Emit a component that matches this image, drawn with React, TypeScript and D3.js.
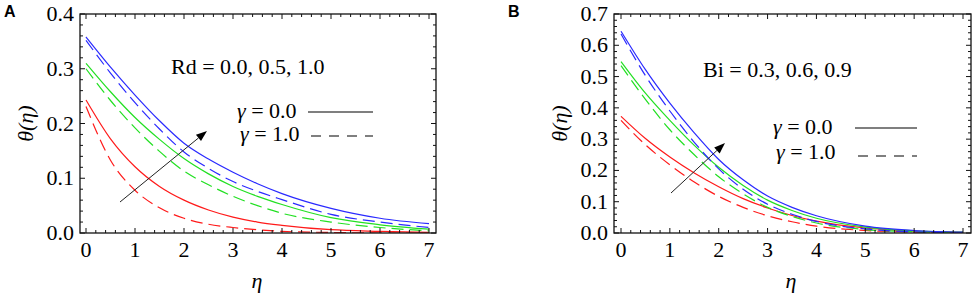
import React from "react";
import * as d3 from "d3";

const eta = [0, 0.5, 1, 1.5, 2, 2.5, 3, 3.5, 4, 5, 6, 7];

// Panel A (Rd = 0.0, 0.5, 1.0)
const aRedSolid = [0.243, 0.172, 0.121, 0.085, 0.06, 0.042, 0.029, 0.02, 0.014, 0.006, 0.003, 0.001];
const aRedDashed = [0.231, 0.133, 0.078, 0.046, 0.027, 0.016, 0.01, 0.006, 0.003, 0.001, 0.0, 0.0];
const aGreenSolid = [0.31, 0.258, 0.211, 0.171, 0.136, 0.108, 0.085, 0.067, 0.052, 0.028, 0.015, 0.007];
const aGreenDashed = [0.3, 0.242, 0.192, 0.149, 0.113, 0.088, 0.067, 0.05, 0.036, 0.02, 0.01, 0.004];
const aBlueSolid = [0.358, 0.303, 0.252, 0.205, 0.164, 0.135, 0.111, 0.09, 0.072, 0.045, 0.027, 0.017];
const aBlueDashed = [0.352, 0.292, 0.238, 0.19, 0.148, 0.118, 0.094, 0.076, 0.061, 0.034, 0.02, 0.01];

// Panel B (Bi = 0.3, 0.6, 0.9)
const bRedSolid = [0.373, 0.302, 0.243, 0.192, 0.148, 0.11, 0.08, 0.056, 0.038, 0.016, 0.006, 0.002];
const bRedDashed = [0.36, 0.282, 0.218, 0.163, 0.117, 0.082, 0.055, 0.036, 0.022, 0.008, 0.003, 0.001];
const bGreenSolid = [0.548, 0.447, 0.36, 0.28, 0.21, 0.152, 0.105, 0.072, 0.047, 0.019, 0.007, 0.003];
const bGreenDashed = [0.535, 0.427, 0.33, 0.25, 0.18, 0.125, 0.082, 0.053, 0.032, 0.011, 0.004, 0.001];
const bBlueSolid = [0.645, 0.522, 0.415, 0.32, 0.235, 0.17, 0.118, 0.082, 0.055, 0.022, 0.008, 0.003];
const bBlueDashed = [0.636, 0.503, 0.39, 0.29, 0.205, 0.14, 0.092, 0.06, 0.037, 0.013, 0.004, 0.001];

const xTicks = [0, 1, 2, 3, 4, 5, 6, 7];
const aYTicks = [0.0, 0.1, 0.2, 0.3, 0.4];
const bYTicks = [0.0, 0.1, 0.2, 0.3, 0.4, 0.5, 0.6, 0.7];

const RED = "#ff1a1a";
const GREEN = "#22e022";
const BLUE = "#2a2aff";
const SERIF = "Liberation Serif, Times New Roman, serif";
const SANS = "Liberation Sans, Arial, sans-serif";
const FS = 22;

type Series = { values: number[]; color: string; dashed: boolean };

type PanelProps = {
  id: string;
  letter: string;
  letterX: number;
  frame: { l: number; r: number; t: number; b: number };
  xRange: [number, number];
  yMax: number;
  yTicks: number[];
  series: Series[];
  paramText: string;
  paramPos: [number, number];
  legendPos: { x0: number; y0: number; x1: number; y1: number; lx0: number; lx1: number; ly0: number; ly1: number };
  arrow: { x1: number; y1: number; x2: number; y2: number };
  yLabelX: number;
  xLabelX: number;
};

const serif = { fontFamily: SERIF, fontSize: FS } as const;

function Panel(p: PanelProps) {
  const { frame } = p;
  const x = d3.scaleLinear().domain([0, 7]).range(p.xRange);
  const y = d3.scaleLinear().domain([0, p.yMax]).range([frame.b, frame.t]);
  const line = d3
    .line<number>()
    .x((_, i) => x(eta[i]))
    .y((v) => y(v))
    .curve(d3.curveMonotoneX);

  const xMinor = d3.range(0, 7.0001, 0.2).filter((v) => Math.abs(v - Math.round(v)) > 1e-6);
  const yStep = p.yTicks[1] - p.yTicks[0];
  const yMinor = d3
    .range(0, p.yMax + 1e-6, yStep / 5)
    .filter((v) => Math.abs(v / yStep - Math.round(v / yStep)) > 1e-6);
  const major = 5;
  const minor = 3;

  const ax = p.arrow;
  const ang = Math.atan2(ax.y2 - ax.y1, ax.x2 - ax.x1);
  const hl = 11;
  const hw = 4;
  const bx = ax.x2 - hl * Math.cos(ang);
  const by = ax.y2 - hl * Math.sin(ang);
  const head = [
    [ax.x2, ax.y2],
    [bx + hw * Math.sin(ang), by - hw * Math.cos(ang)],
    [bx - hw * Math.sin(ang), by + hw * Math.cos(ang)],
  ];

  return (
    <g>
      <defs>
        <clipPath id={`clip-${p.id}`}>
          <rect x={frame.l} y={frame.t} width={frame.r - frame.l} height={frame.b - frame.t} />
        </clipPath>
      </defs>
      <text x={p.letterX} y={17} style={{ fontFamily: SANS, fontWeight: "bold", fontSize: 16 }} fill="#000">
        {p.letter}
      </text>
      <g clipPath={`url(#clip-${p.id})`}>
        {p.series.map((s, i) => (
          <path
            key={i}
            d={line(s.values) || ""}
            fill="none"
            stroke={s.color}
            strokeWidth={1.2}
            strokeDasharray={s.dashed ? "12,6" : undefined}
          />
        ))}
      </g>
      <rect
        x={frame.l}
        y={frame.t}
        width={frame.r - frame.l}
        height={frame.b - frame.t}
        fill="none"
        stroke="#111"
        strokeWidth={1.3}
      />
      {xTicks.map((t) => (
        <g key={`xt${t}`}>
          <line x1={x(t)} x2={x(t)} y1={frame.b} y2={frame.b - major} stroke="#111" />
          <line x1={x(t)} x2={x(t)} y1={frame.t} y2={frame.t + major} stroke="#111" />
          <text x={x(t)} y={257} textAnchor="middle" style={serif} fill="#000">
            {t}
          </text>
        </g>
      ))}
      {xMinor.map((t, i) => (
        <g key={`xm${i}`}>
          <line x1={x(t)} x2={x(t)} y1={frame.b} y2={frame.b - minor} stroke="#111" />
          <line x1={x(t)} x2={x(t)} y1={frame.t} y2={frame.t + minor} stroke="#111" />
        </g>
      ))}
      {p.yTicks.map((t) => (
        <g key={`yt${t}`}>
          <line x1={frame.l} x2={frame.l + major} y1={y(t)} y2={y(t)} stroke="#111" />
          <line x1={frame.r} x2={frame.r - major} y1={y(t)} y2={y(t)} stroke="#111" />
          <text x={frame.l - 6} y={y(t) + 7} textAnchor="end" style={serif} fill="#000">
            {t.toFixed(1)}
          </text>
        </g>
      ))}
      {yMinor.map((t, i) => (
        <g key={`ym${i}`}>
          <line x1={frame.l} x2={frame.l + minor} y1={y(t)} y2={y(t)} stroke="#111" />
          <line x1={frame.r} x2={frame.r - minor} y1={y(t)} y2={y(t)} stroke="#111" />
        </g>
      ))}
      <text
        transform={`translate(${p.yLabelX},${(frame.t + frame.b) / 2}) rotate(-90)`}
        textAnchor="middle"
        style={{ ...serif, fontStyle: "italic" }}
        fill="#000"
      >
        θ(η)
      </text>
      <text x={p.xLabelX} y={288} textAnchor="middle" style={{ ...serif, fontStyle: "italic" }} fill="#000">
        η
      </text>
      <text x={p.paramPos[0]} y={p.paramPos[1]} style={serif} fill="#000">
        {p.paramText}
      </text>
      <text x={p.legendPos.x0} y={p.legendPos.y0} style={serif} fill="#000">
        <tspan fontStyle="italic">γ</tspan> = 0.0
      </text>
      <text x={p.legendPos.x1} y={p.legendPos.y1} style={serif} fill="#000">
        <tspan fontStyle="italic">γ</tspan> = 1.0
      </text>
      <line
        x1={p.legendPos.lx0}
        x2={p.legendPos.lx1}
        y1={p.legendPos.ly0}
        y2={p.legendPos.ly0}
        stroke="#000"
        strokeWidth={1.2}
      />
      <line
        x1={p.legendPos.lx0 + 3}
        x2={p.legendPos.lx1}
        y1={p.legendPos.ly1}
        y2={p.legendPos.ly1}
        stroke="#000"
        strokeWidth={1.2}
        strokeDasharray="10,8"
      />
      <line x1={ax.x1} y1={ax.y1} x2={bx} y2={by} stroke="#222" strokeWidth={1} />
      <polygon points={head.map((q) => q.join(",")).join(" ")} fill="#000" />
    </g>
  );
}

export default function App() {
  const seriesA: Series[] = [
    { values: aRedSolid, color: RED, dashed: false },
    { values: aRedDashed, color: RED, dashed: true },
    { values: aGreenSolid, color: GREEN, dashed: false },
    { values: aGreenDashed, color: GREEN, dashed: true },
    { values: aBlueSolid, color: BLUE, dashed: false },
    { values: aBlueDashed, color: BLUE, dashed: true },
  ];
  const seriesB: Series[] = [
    { values: bRedSolid, color: RED, dashed: false },
    { values: bRedDashed, color: RED, dashed: true },
    { values: bGreenSolid, color: GREEN, dashed: false },
    { values: bGreenDashed, color: GREEN, dashed: true },
    { values: bBlueSolid, color: BLUE, dashed: false },
    { values: bBlueDashed, color: BLUE, dashed: true },
  ];
  return (
    <svg
      width={976}
      height={298}
      viewBox="0 0 976 298"
      style={{ position: "absolute", left: 0, top: 0, background: "#fff" }}
    >
      <rect x={0} y={0} width={976} height={298} fill="#fff" />
      <Panel
        id="a"
        letter="A"
        letterX={4}
        frame={{ l: 80, r: 436, t: 14, b: 233 }}
        xRange={[86, 429]}
        yMax={0.4}
        yTicks={aYTicks}
        series={seriesA}
        paramText="Rd = 0.0, 0.5, 1.0"
        paramPos={[171, 74]}
        legendPos={{ x0: 237, y0: 118, x1: 240, y1: 141, lx0: 308, lx1: 373, ly0: 112, ly1: 136 }}
        arrow={{ x1: 120, y1: 202, x2: 207, y2: 131 }}
        yLabelX={33}
        xLabelX={257}
      />
      <Panel
        id="b"
        letter="B"
        letterX={508}
        frame={{ l: 614, r: 971, t: 14, b: 233 }}
        xRange={[621, 963]}
        yMax={0.7}
        yTicks={bYTicks}
        series={seriesB}
        paramText="Bi = 0.3, 0.6, 0.9"
        paramPos={[703, 77]}
        legendPos={{ x0: 773, y0: 134, x1: 776, y1: 159, lx0: 855, lx1: 917, ly0: 128, ly1: 156 }}
        arrow={{ x1: 671, y1: 193, x2: 725, y2: 143 }}
        yLabelX={567}
        xLabelX={791}
      />
    </svg>
  );
}
